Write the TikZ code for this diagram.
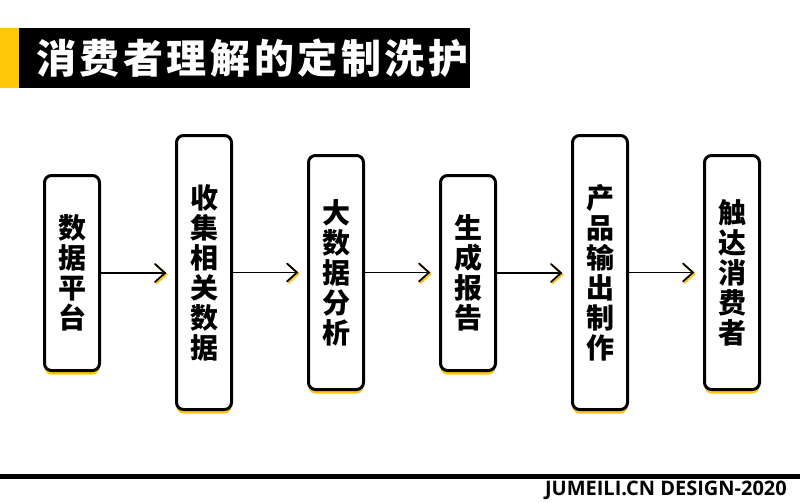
\documentclass[tikz,border=0pt]{standalone}
\usepackage{fontspec}
\newfontfamily\cjk{Noto Sans CJK SC}
\newfontfamily\opensans{Open Sans}
\usetikzlibrary{shadows,arrows.meta}
\definecolor{brandyellow}{HTML}{FFC60A}
\tikzset{
  stepbox/.style={draw=black, line width=3pt, rounded corners=7pt, fill=white,
    minimum width=55pt, inner sep=0pt, align=center,
    font=\cjk\bfseries\fontsize{28}{30}\selectfont,
    drop shadow={shadow xshift=0pt, shadow yshift=-4pt, fill=brandyellow, opacity=1}},
  link/.style={line width=1.5pt, draw=black},
  chev/.style={line width=1.8pt, line cap=round, line join=miter}
}
\begin{document}
\begin{tikzpicture}[x=1pt,y=-1pt]
\useasboundingbox (0,0) rectangle (800,503);
\fill[white] (0,0) rectangle (800,503);
% title
\fill[brandyellow] (0,28) rectangle (19,88);
\fill[black] (19,28) rectangle (470,88);
\node[anchor=west, text=white, inner sep=0pt, font=\cjk\bfseries\fontsize{40}{42}\selectfont\addfontfeature{LetterSpace=9}] (title) at (36,58) {消费者理解的定制洗护};
% boxes
\node[stepbox, minimum height=195pt] (b1) at (72,273) {数\\据\\平\\台};
\node[stepbox, minimum height=274pt] (b2) at (204,272.5) {收\\集\\相\\关\\数\\据};
\node[stepbox, minimum height=234pt] (b3) at (336,272.5) {大\\数\\据\\分\\析};
\node[stepbox, minimum height=195pt] (b4) at (468,273) {生\\成\\报\\告};
\node[stepbox, minimum height=274pt] (b5) at (600,272.5) {产\\品\\输\\出\\制\\作};
\node[stepbox, minimum height=234pt] (b6) at (732,272.5) {触\\达\\消\\费\\者};
% connectors
\foreach \a/\b [count=\i] in {b1/b2,b2/b3,b3/b4,b4/b5,b5/b6}{
  \coordinate (t\i) at ([xshift=-10pt]\b.west |- \a.east);
  \draw[link] (\a.east) -- (t\i);
  \draw[chev, brandyellow] ([shift={(-8.5,-7.5)}]t\i) -- ([shift={(1.5,1.5)}]t\i) -- ([shift={(-8.5,10.5)}]t\i);
  \draw[chev, black] ([shift={(-10,-9)}]t\i) -- (t\i) -- ([shift={(-10,9)}]t\i);
}
% bottom
\coordinate (bl) at (0,476);
\coordinate (br) at (800,476);
\draw[line width=5pt] (bl) -- (br);
\node[anchor=east, inner sep=0pt, font=\opensans\bfseries\fontsize{20}{22}\selectfont] (credit) at (787,490) {JUMEILI.CN DESIGN-2020};
\end{tikzpicture}
\end{document}
